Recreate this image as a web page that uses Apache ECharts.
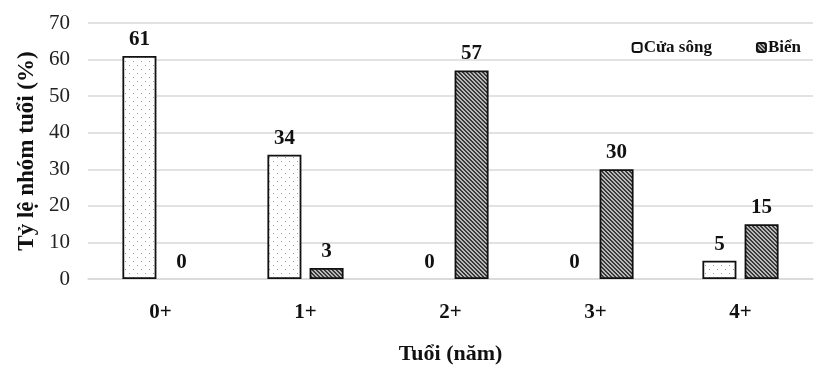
<!DOCTYPE html>
<html><head><meta charset="utf-8">
<script src="https://cdn.jsdelivr.net/npm/echarts@6/dist/echarts.min.js"></script>
<style>html,body{margin:0;padding:0;background:#fff}#c{width:831px;height:370px}</style>
</head><body><div id="c"></div>
<script>
const categories = ['0+', '1+', '2+', '3+', '4+'];
const seriesNames = ['Cửa sông', 'Biển'];
const cuaSong = [61, 34, 0, 0, 5];
const bien = [0, 3, 57, 30, 15];
const yTicks = [0, 10, 20, 30, 40, 50, 60, 70];

function dotPattern() {
  const c = document.createElement('canvas'); c.width = 8; c.height = 8;
  const g = c.getContext('2d');
  g.fillStyle = '#ffffff'; g.fillRect(0, 0, 8, 8);
  g.fillStyle = '#9a9a9a';
  g.fillRect(1, 1, 1, 1); g.fillRect(5, 5, 1, 1);
  return c;
}
function hatchPattern() {
  const c = document.createElement('canvas'); c.width = 4; c.height = 4;
  const g = c.getContext('2d');
  g.fillStyle = '#3a3a3a'; g.fillRect(0, 0, 4, 4);
  g.fillStyle = '#b8b8b8';
  for (let i = 0; i < 4; i++) { g.fillRect(i, i, 1, 1); g.fillRect((i + 1) % 4, i, 1, 1); }
  return c;
}
// zero-height bars draw no outline
function toItems(arr) {
  return arr.map(v => v === 0 ? {value: v, itemStyle: {borderWidth: 0}} : v);
}

const font = 'Liberation Serif';
const labelStyle = {show: true, position: 'top', distance: 6, fontFamily: font, fontWeight: 'bold', fontSize: 21, color: '#111'};
const chart = echarts.init(document.getElementById('c'), null, {renderer: 'canvas'});
chart.setOption({
  animation: false,
  textStyle: {fontFamily: font},
  grid: {left: 88, right: 18, top: 23, bottom: 85, containLabel: false},
  legend: {
    data: seriesNames,
    right: 28, top: 37,
    itemWidth: 9, itemHeight: 9, itemGap: 44,
    backgroundColor: '#ffffff',
    padding: [2, 2, 2, 2],
    textStyle: {fontFamily: font, fontWeight: 'bold', fontSize: 17, color: '#111', padding: [0, 0, 0, -3]}
  },
  xAxis: {
    type: 'category',
    data: categories,
    name: 'Tuổi (năm)',
    nameLocation: 'middle',
    nameGap: 64,
    nameTextStyle: {fontFamily: font, fontWeight: 'bold', fontSize: 22, color: '#111'},
    axisLine: {show: true, lineStyle: {color: '#d9d9d9', width: 1.5}},
    axisTick: {show: false},
    axisLabel: {fontFamily: font, fontWeight: 'bold', fontSize: 21, color: '#111', margin: 23}
  },
  yAxis: {
    type: 'value',
    min: yTicks[0], max: yTicks[yTicks.length - 1], interval: 10,
    name: 'Tỷ lệ nhóm tuổi (%)',
    nameLocation: 'middle',
    nameGap: 40,
    nameRotate: 90,
    nameTextStyle: {fontFamily: font, fontWeight: 'bold', fontSize: 23, color: '#111'},
    axisLine: {show: false},
    axisTick: {show: false},
    splitLine: {lineStyle: {color: '#d9d9d9', width: 1.5}},
    axisLabel: {fontFamily: font, fontSize: 21, color: '#222', margin: 18}
  },
  series: [
    {
      name: seriesNames[0], type: 'bar', data: toItems(cuaSong),
      barWidth: 34, barGap: '24%',
      itemStyle: {color: {image: dotPattern(), repeat: 'repeat'}, borderColor: '#111', borderWidth: 1.8},
      label: labelStyle
    },
    {
      name: seriesNames[1], type: 'bar', data: toItems(bien),
      barWidth: 34,
      itemStyle: {color: {image: hatchPattern(), repeat: 'repeat'}, borderColor: '#111', borderWidth: 1.8},
      label: labelStyle
    }
  ]
});
</script></body></html>
